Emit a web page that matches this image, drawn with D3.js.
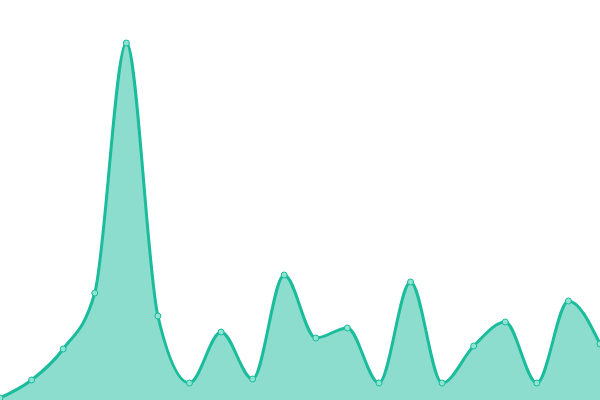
<html>
  <head>
    <meta charset="utf-8" />
    <script src="https://cdnjs.cloudflare.com/ajax/libs/d3/7.6.1/d3.min.js"></script>
    <style>
      body { margin: 0; }
      svg { display: block; }
    </style>
  </head>
  <body>
    <svg width="600" height="400"></svg>
  </body>
  <script>
    // one value per step
    let steps = d3.range(20);
    let values = [2, 20, 51, 107, 357, 84, 17, 68, 21, 125, 62, 72, 17, 118, 17, 54, 78, 17, 99, 56];

    let xScale = d3.scaleLinear().domain([0, 19]).range([0, 600]);
    let yScale = d3.scaleLinear().domain([0, 400]).range([400, 0]);

    let svg = d3.select("svg");

    let area = d3
      .area()
      .x((d, i) => xScale(steps[i]))
      .y0(yScale(0))
      .y1((d) => yScale(d))
      .curve(d3.curveMonotoneX);

    let line = d3
      .line()
      .x((d, i) => xScale(steps[i]))
      .y((d) => yScale(d))
      .curve(d3.curveMonotoneX);

    svg.append("path")
      .attr("d", area(values))
      .style("fill", "#1abc9c")
      .style("fill-opacity", 0.5);

    svg.append("path")
      .attr("d", line(values))
      .style("fill", "none")
      .style("stroke", "#1abc9c")
      .style("stroke-width", 3);

    svg.selectAll("circle")
      .data(values)
      .enter()
      .append("circle")
      .attr("cx", (d, i) => xScale(steps[i]))
      .attr("cy", (d) => yScale(d))
      .attr("r", 3)
      .style("fill", "#8ee3d2")
      .style("stroke", "#1abc9c")
      .style("stroke-width", 1);
  </script>
</html>
